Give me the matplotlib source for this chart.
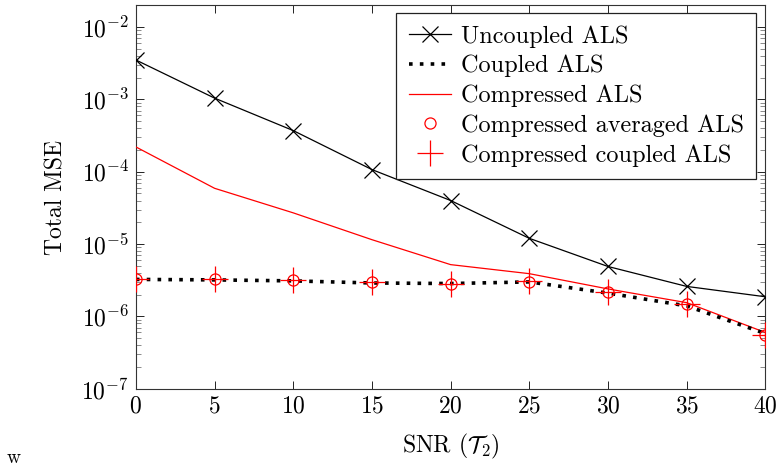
import matplotlib
matplotlib.use("Agg")
import matplotlib.pyplot as plt
from matplotlib.ticker import LogLocator, NullFormatter

plt.rcParams["font.family"] = "cmr10"
plt.rcParams["mathtext.fontset"] = "cm"
plt.rcParams["axes.formatter.use_mathtext"] = True

snr = [0, 5, 10, 15, 20, 25, 30, 35, 40]
uncoupled_als = [3.5e-3, 1.04e-3, 3.7e-4, 1.07e-4, 4.0e-5, 1.2e-5, 4.9e-6, 2.6e-6, 1.87e-6]
coupled_als = [3.25e-6, 3.2e-6, 3.1e-6, 2.9e-6, 2.85e-6, 3.0e-6, 2.1e-6, 1.4e-6, 5.8e-7]
compressed_als = [2.2e-4, 5.9e-5, 2.7e-5, 1.15e-5, 5.2e-6, 3.9e-6, 2.4e-6, 1.55e-6, 6.0e-7]
compressed_averaged_als = [3.3e-6, 3.25e-6, 3.15e-6, 2.95e-6, 2.85e-6, 3.0e-6, 2.15e-6, 1.5e-6, 5.6e-7]
compressed_coupled_als = [3.3e-6, 3.25e-6, 3.15e-6, 2.95e-6, 2.85e-6, 3.05e-6, 2.2e-6, 1.5e-6, 5.6e-7]

legend_labels = ["Uncoupled ALS", "Coupled ALS", "Compressed ALS",
                 "Compressed averaged ALS", "Compressed coupled ALS"]

fig = plt.figure(figsize=(7.81, 4.73), dpi=100)
ax = fig.add_axes([0.174, 0.178, 0.806, 0.811])

ax.plot(snr, uncoupled_als, color="black", lw=0.9, marker="x", ms=12, mew=0.9,
        label=legend_labels[0], zorder=3)
ax.plot(snr, coupled_als, color="black", lw=2.6, ls=(0, (1, 2)), label=legend_labels[1], zorder=4)
ax.plot(snr, compressed_als, color="red", lw=0.9, label=legend_labels[2], zorder=3)
ax.plot(snr, compressed_averaged_als, ls="none", marker="o", ms=8, mfc="none",
        mec="red", mew=0.9, label=legend_labels[3], zorder=5)
ax.plot(snr, compressed_coupled_als, ls="none", marker="+", ms=19, mec="red",
        mew=0.9, label=legend_labels[4], zorder=5)

ax.set_yscale("log")
ax.set_xlim(0, 40)
ax.set_ylim(1e-7, 2.0e-2)
ax.set_xticks(snr)
ax.yaxis.set_major_locator(LogLocator(base=10, numticks=20))
ax.yaxis.set_minor_locator(LogLocator(base=10, subs=range(2, 10), numticks=20))
ax.yaxis.set_minor_formatter(NullFormatter())

ax.tick_params(which="both", direction="in", top=True, right=True, labelsize=17)
ax.tick_params(which="major", length=6, width=0.6, pad=5)
ax.tick_params(which="minor", length=3.5, width=0.6, color="#777777")
for s in ax.spines.values():
    s.set_linewidth(0.8)
    s.set_color("#333333")

ax.set_xlabel(r"SNR ($\boldsymbol{\mathcal{T}}_2$)", fontsize=17, labelpad=10)
ax.set_ylabel("Total MSE", fontsize=17, labelpad=10)

leg = ax.legend(loc="upper right", bbox_to_anchor=(0.985, 0.980), fontsize=17.5,
                frameon=True, fancybox=False, framealpha=1, edgecolor="#222222",
                handlelength=1.75, handletextpad=0.4, labelspacing=0.3,
                borderpad=0.5, borderaxespad=0)
leg.get_frame().set_linewidth(0.9)

fig.text(0.008, 0.022, "w", fontsize=14)

fig.savefig("out.png", dpi=100)
